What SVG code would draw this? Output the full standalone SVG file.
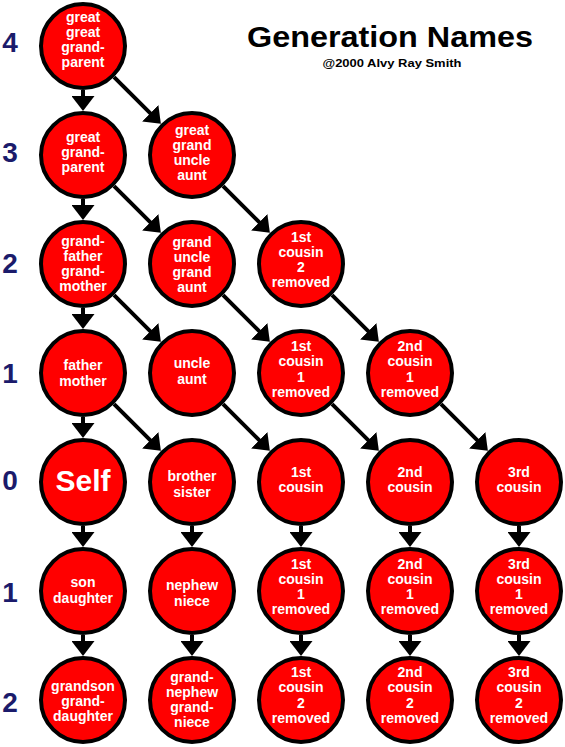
<svg xmlns="http://www.w3.org/2000/svg" width="565" height="747" viewBox="0 0 565 747">
<style>
.n circle{fill:#ff0000;stroke:#000;stroke-width:4}
.n text{fill:#fff;font-family:"Liberation Sans",Arial,sans-serif;font-weight:bold;font-size:14px;text-anchor:middle}
.c path{fill:none;stroke:#000;stroke-width:4;marker-end:url(#ah)}
.g{fill:#1b1b6b;font-family:"Liberation Sans",Arial,sans-serif;font-weight:bold;font-size:28px;text-anchor:middle}
</style>
<defs>
<marker id="ah" markerUnits="userSpaceOnUse" markerWidth="16" markerHeight="23" refX="7" refY="11.5" orient="auto">
<path d="M0,0 L15,11.5 L0,23 z" fill="#000"/>
</marker>
</defs>
<rect width="565" height="747" fill="#fff"/>
<g id="title">
<text x="390" y="47" textLength="286" lengthAdjust="spacingAndGlyphs" font-family="'Liberation Sans',Arial,sans-serif" font-weight="bold" font-size="29" text-anchor="middle" fill="#000">Generation Names</text>
<text x="392" y="67" textLength="139" lengthAdjust="spacingAndGlyphs" font-family="'Liberation Sans',Arial,sans-serif" font-weight="bold" font-size="11" text-anchor="middle" fill="#000">@2000 Alvy Ray Smith</text>
</g>
<g id="generation-labels">
<text class="g" x="10" y="52">4</text>
<text class="g" x="10" y="162">3</text>
<text class="g" x="10" y="273">2</text>
<text class="g" x="10" y="383">1</text>
<text class="g" x="10" y="490">0</text>
<text class="g" x="10" y="602">1</text>
<text class="g" x="10" y="712">2</text>
</g>
<g id="connectors" class="c">
<path d="M83,90 L83,103"/>
<path d="M83,199 L83,212"/>
<path d="M83,308 L83,321"/>
<path d="M83,417 L83,430"/>
<path d="M83,526 L83,539"/>
<path d="M83,635 L83,648"/>
<path d="M192,526 L192,539"/>
<path d="M192,635 L192,648"/>
<path d="M301,526 L301,539"/>
<path d="M301,635 L301,648"/>
<path d="M410,526 L410,539"/>
<path d="M410,635 L410,648"/>
<path d="M519,526 L519,539"/>
<path d="M519,635 L519,648"/>
<path d="M114.1,77.1 L155.2,118.2"/>
<path d="M114.1,186.1 L155.2,227.2"/>
<path d="M223.1,186.1 L264.2,227.2"/>
<path d="M114.1,295.1 L155.2,336.2"/>
<path d="M223.1,295.1 L264.2,336.2"/>
<path d="M332.1,295.1 L373.2,336.2"/>
<path d="M114.1,404.1 L155.2,445.2"/>
<path d="M223.1,404.1 L264.2,445.2"/>
<path d="M332.1,404.1 L373.2,445.2"/>
<path d="M441.1,404.1 L482.2,445.2"/>
</g>
<g id="great-great-grandparent" class="n"><circle cx="83" cy="46" r="42"/>
<text x="83" y="22">great</text><text x="83" y="37">great</text><text x="83" y="52">grand-</text><text x="83" y="67">parent</text></g>
<g id="great-grandparent" class="n"><circle cx="83" cy="155" r="42"/>
<text x="83" y="142">great</text><text x="83" y="157">grand-</text><text x="83" y="172">parent</text></g>
<g id="great-grand-uncle-aunt" class="n"><circle cx="192" cy="155" r="42"/>
<text x="192" y="135">great</text><text x="192" y="150">grand</text><text x="192" y="165">uncle</text><text x="192" y="180">aunt</text></g>
<g id="grandparent" class="n"><circle cx="83" cy="264" r="42"/>
<text x="83" y="246">grand-</text><text x="83" y="261">father</text><text x="83" y="276">grand-</text><text x="83" y="291">mother</text></g>
<g id="grand-uncle-aunt" class="n"><circle cx="192" cy="264" r="42"/>
<text x="192" y="247">grand</text><text x="192" y="262">uncle</text><text x="192" y="277">grand</text><text x="192" y="292">aunt</text></g>
<g id="first-cousin-2-removed-up" class="n"><circle cx="301" cy="264" r="42"/>
<text x="301" y="242">1st</text><text x="301" y="257">cousin</text><text x="301" y="272">2</text><text x="301" y="287">removed</text></g>
<g id="parent" class="n"><circle cx="83" cy="373" r="42"/>
<text x="83" y="370">father</text><text x="83" y="386">mother</text></g>
<g id="uncle-aunt" class="n"><circle cx="192" cy="373" r="42"/>
<text x="192" y="368">uncle</text><text x="192" y="384">aunt</text></g>
<g id="first-cousin-1-removed-up" class="n"><circle cx="301" cy="373" r="42"/>
<text x="301" y="351">1st</text><text x="301" y="366">cousin</text><text x="301" y="382">1</text><text x="301" y="397">removed</text></g>
<g id="second-cousin-1-removed-up" class="n"><circle cx="410" cy="373" r="42"/>
<text x="410" y="351">2nd</text><text x="410" y="366">cousin</text><text x="410" y="382">1</text><text x="410" y="397">removed</text></g>
<g id="self" class="n"><circle cx="83" cy="482" r="42"/>
<text x="83" y="491" style="font-size:30px">Self</text></g>
<g id="sibling" class="n"><circle cx="192" cy="482" r="42"/>
<text x="192" y="481">brother</text><text x="192" y="497">sister</text></g>
<g id="first-cousin" class="n"><circle cx="301" cy="482" r="42"/>
<text x="301" y="477">1st</text><text x="301" y="492">cousin</text></g>
<g id="second-cousin" class="n"><circle cx="410" cy="482" r="42"/>
<text x="410" y="477">2nd</text><text x="410" y="492">cousin</text></g>
<g id="third-cousin" class="n"><circle cx="519" cy="482" r="42"/>
<text x="519" y="477">3rd</text><text x="519" y="492">cousin</text></g>
<g id="child" class="n"><circle cx="83" cy="591" r="42"/>
<text x="83" y="587">son</text><text x="83" y="603">daughter</text></g>
<g id="nephew-niece" class="n"><circle cx="192" cy="591" r="42"/>
<text x="192" y="590">nephew</text><text x="192" y="606">niece</text></g>
<g id="first-cousin-1-removed-down" class="n"><circle cx="301" cy="591" r="42"/>
<text x="301" y="569">1st</text><text x="301" y="584">cousin</text><text x="301" y="599">1</text><text x="301" y="614">removed</text></g>
<g id="second-cousin-1-removed-down" class="n"><circle cx="410" cy="591" r="42"/>
<text x="410" y="569">2nd</text><text x="410" y="584">cousin</text><text x="410" y="599">1</text><text x="410" y="614">removed</text></g>
<g id="third-cousin-1-removed-down" class="n"><circle cx="519" cy="591" r="42"/>
<text x="519" y="569">3rd</text><text x="519" y="584">cousin</text><text x="519" y="599">1</text><text x="519" y="614">removed</text></g>
<g id="grandchild" class="n"><circle cx="83" cy="700" r="42"/>
<text x="83" y="691">grandson</text><text x="83" y="706">grand-</text><text x="83" y="721">daughter</text></g>
<g id="grand-nephew-niece" class="n"><circle cx="192" cy="700" r="42"/>
<text x="192" y="682">grand-</text><text x="192" y="697">nephew</text><text x="192" y="712">grand-</text><text x="192" y="727">niece</text></g>
<g id="first-cousin-2-removed-down" class="n"><circle cx="301" cy="700" r="42"/>
<text x="301" y="677">1st</text><text x="301" y="692">cousin</text><text x="301" y="708">2</text><text x="301" y="723">removed</text></g>
<g id="second-cousin-2-removed-down" class="n"><circle cx="410" cy="700" r="42"/>
<text x="410" y="677">2nd</text><text x="410" y="692">cousin</text><text x="410" y="708">2</text><text x="410" y="723">removed</text></g>
<g id="third-cousin-2-removed-down" class="n"><circle cx="519" cy="700" r="42"/>
<text x="519" y="677">3rd</text><text x="519" y="692">cousin</text><text x="519" y="708">2</text><text x="519" y="723">removed</text></g>
</svg>
